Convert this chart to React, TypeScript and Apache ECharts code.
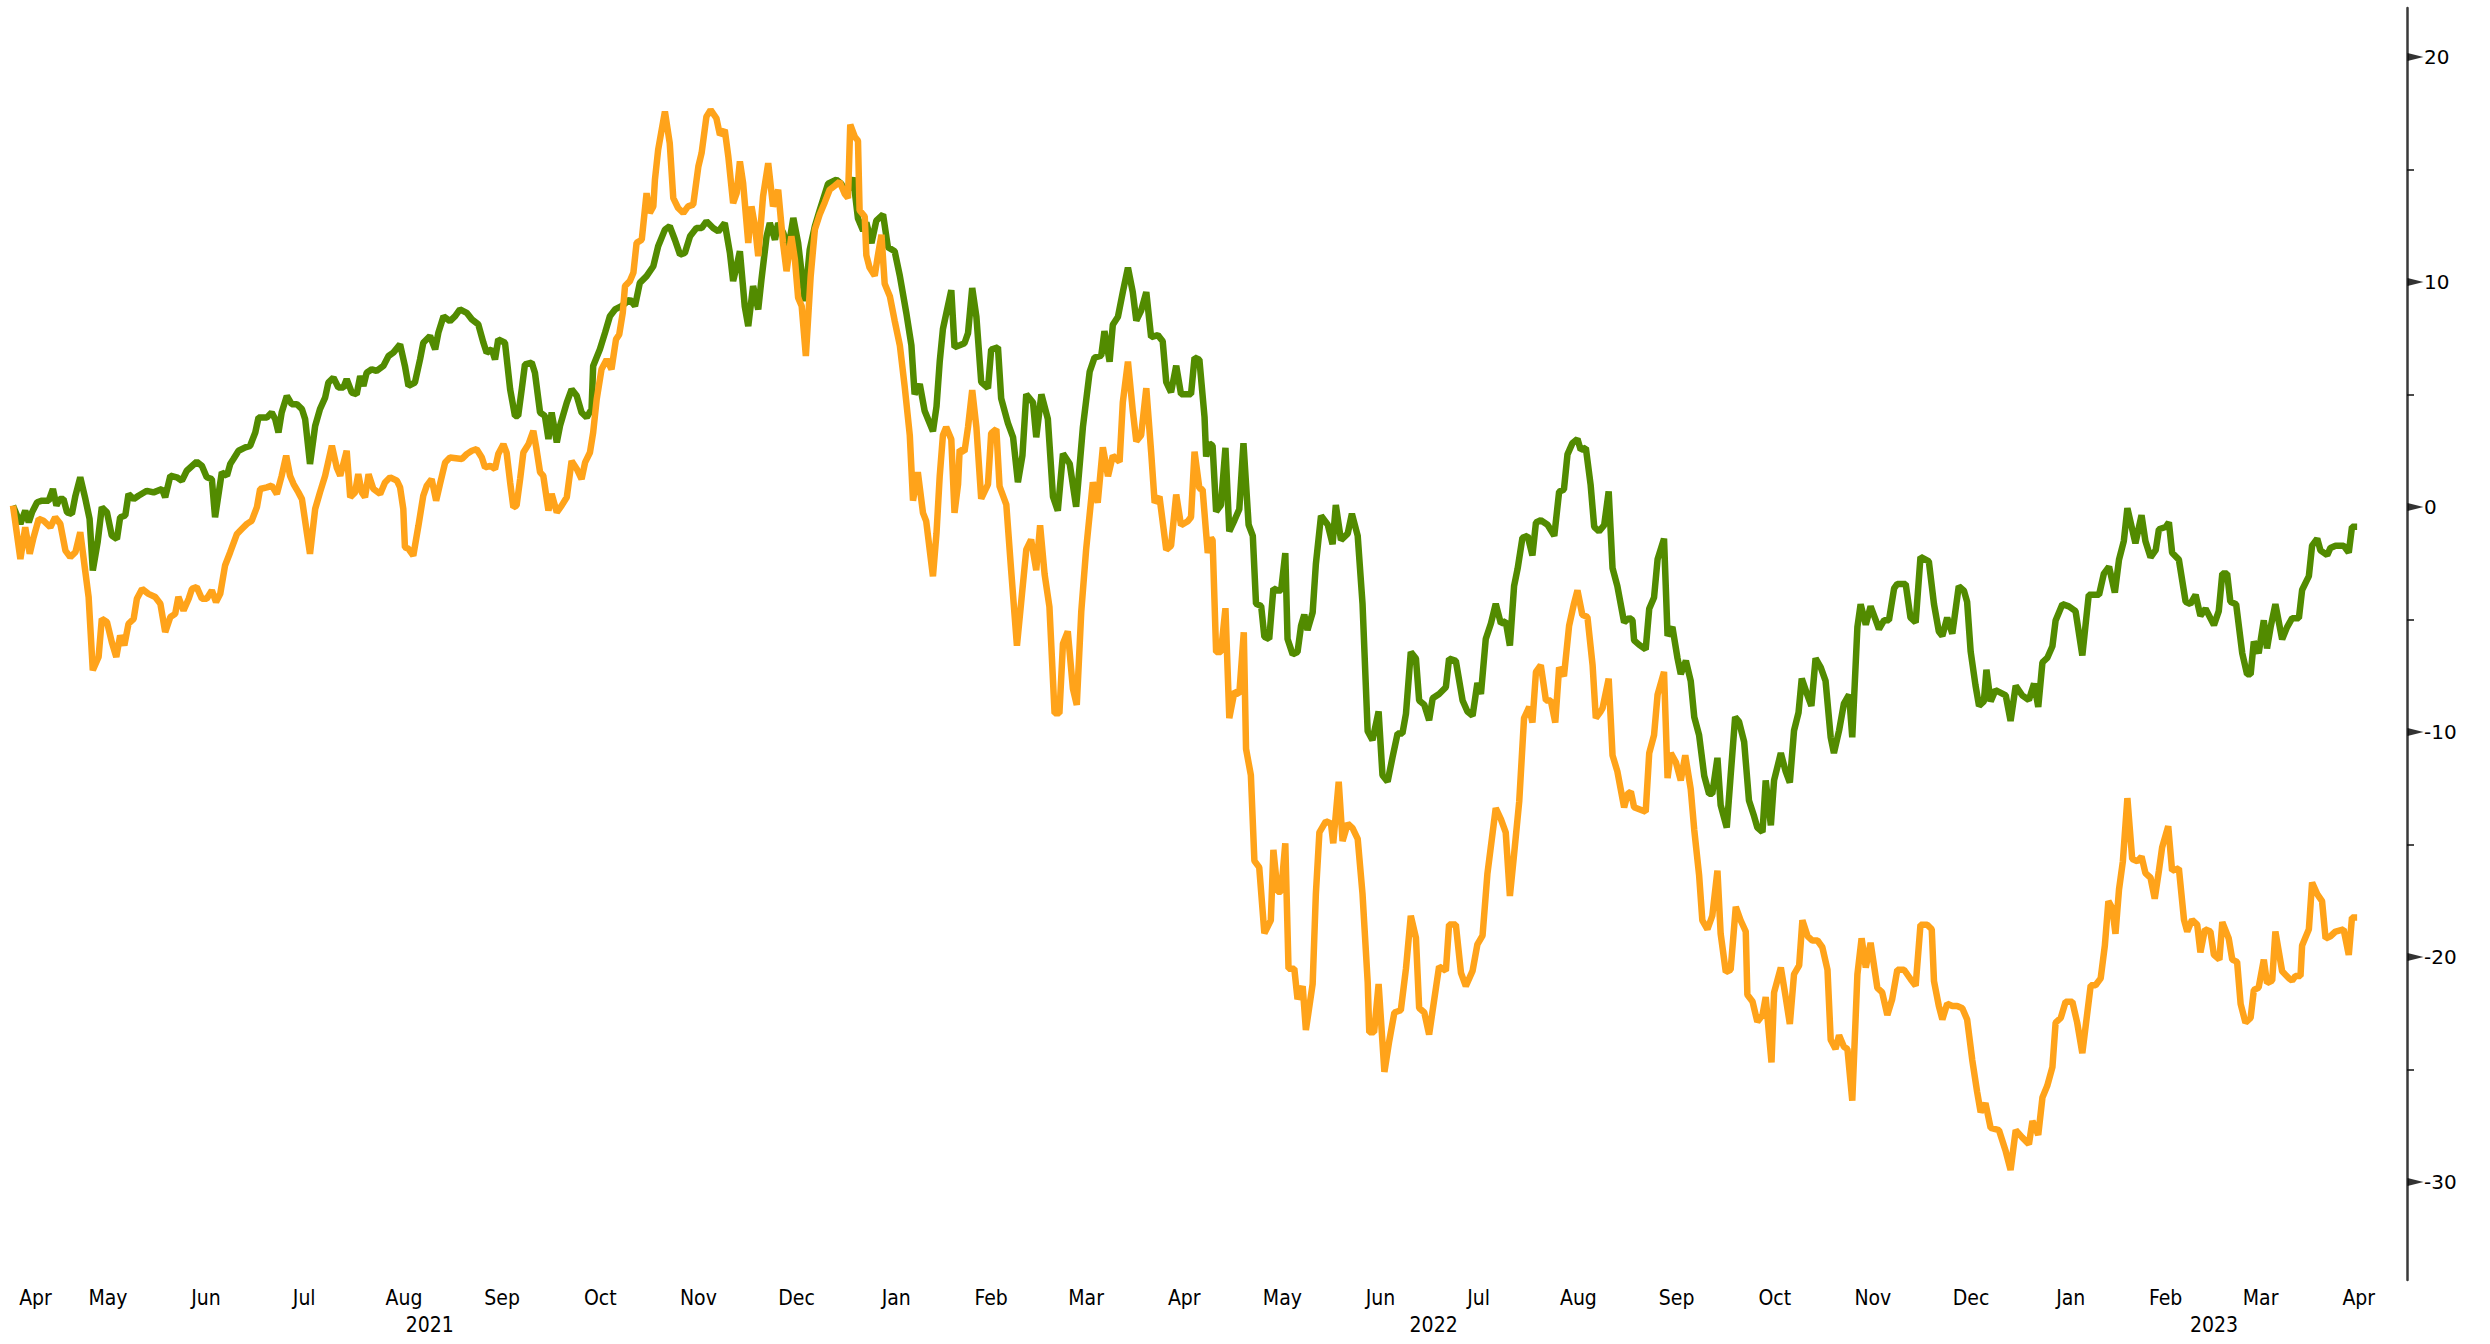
import React, { useEffect, useRef } from "react";
import * as echarts from "echarts";

// x = days since 2021-04-17, y = value
const greenSeries: [number, number][] = [
  [0,0.06],[2.3,-0.75],[3.8,-0.16],[4.9,-0.68],[5.9,-0.24],[7.5,0.21],[9,0.28],[11.1,0.28],[12.4,0.8],[13.5,0.06],[14.5,0.35],[15.7,0.35],[16.8,-0.24],[18.3,-0.31],[19.4,0.5],[20.9,1.32],[22.5,0.35],[23.8,-0.53],[24.8,-2.82],[26.3,-1.57],[27.6,-0.01],[29.2,-0.24],[30.7,-1.27],[32.3,-1.42],[33.3,-0.46],[34.9,-0.38],[35.9,0.58],[37.5,0.35],[39,0.5],[41.6,0.72],[43.7,0.65],[46.3,0.8],[47.3,0.43],[48.9,1.39],[50.9,1.32],[52.5,1.17],[54,1.61],[57.1,2.01],[58.7,1.83],[60.2,1.32],[61.8,1.24],[62.8,-0.46],[64.9,1.54],[66.5,1.39],[67.5,1.91],[68.5,2.13],[70.1,2.5],[72.2,2.65],[73.7,2.72],[75.3,3.31],[76.3,3.98],[78.9,3.98],[80.4,4.2],[81.5,3.9],[82.5,3.31],[83.5,4.2],[85.1,4.94],[86.6,4.57],[88.2,4.57],[89.8,4.35],[90.8,3.9],[92.3,1.91],[93.9,3.6],[95.4,4.35],[97,4.86],[98,5.53],[99.6,5.75],[101.1,5.31],[102.7,5.31],[103.7,5.68],[105.3,5.08],[106.8,5.01],[107.9,5.82],[108.9,5.38],[109.9,5.97],[111.5,6.12],[113,6.05],[115.1,6.27],[116.7,6.71],[118.2,6.86],[120.3,7.23],[121.8,6.27],[122.9,5.38],[124.9,5.53],
  [126.5,6.56],[127.5,7.3],[129.6,7.6],[131.2,7.01],[132.2,7.75],[133.8,8.48],[135.8,8.26],[137.4,8.48],[138.9,8.78],[141,8.63],[142.6,8.34],[144.6,8.12],[146.2,7.3],[147.2,6.86],[148.8,7.01],[149.8,6.56],[150.8,7.45],[152.9,7.3],[154.5,5.23],[156,4.05],[157,4.05],[158.1,5.23],[159.1,6.34],[161.2,6.42],[162.2,5.97],[163.8,4.2],[165.3,4.05],[166.4,3.02],[167.4,4.2],[169,2.87],[170,3.61],[172.1,4.64],[173.6,5.23],[175.2,4.94],[176.7,4.2],[178.3,3.98],[179.8,4.35],[180.3,6.27],[182.4,7.01],[184,7.75],[185.5,8.48],[187.1,8.78],[189.1,8.93],[191.7,9.22],[193.3,8.93],[194.8,9.96],[196.9,10.26],[199,10.7],[200.5,11.59],[202.6,12.33],[204.1,12.48],[205.7,11.88],[207.3,11.22],[208.8,11.29],[210.4,12.03],[212.4,12.4],[214,12.4],[215.5,12.7],[217.6,12.4],[219.2,12.25],[221.2,12.62],[222.8,11.29],[223.8,10.04],[224.9,10.7],[225.9,11.37],[227.4,8.93],[228.5,8.04],[230,9.82],[231.6,8.78],[232.6,10.11],[234.2,12.03],[235.2,12.62],[236.8,11.88],[237.8,12.62],[239.4,12.18],[240.9,11.44],[242.5,12.85],[244,11.74],[246.1,9.15],[247.6,11.44],[249.2,12.48],
  [250.7,13.19],[253.3,14.37],[255.9,14.55],[257.4,14.37],[259,13.91],[261.1,14.64],[262.6,12.82],[264.2,12.28],[265.2,12.64],[266.8,11.73],[268.3,12.73],[270.4,13.0],[271.9,11.55],[274,11.37],[275.6,10.28],[277.6,8.64],[279.2,7.19],[280.2,5.01],[281.8,5.46],[283.3,4.28],[285.9,3.37],[287,4.46],[288,6.46],[289,7.91],[291.6,9.64],[292.6,7.1],[294.2,7.19],[295.7,7.28],[296.8,7.73],[298.1,9.73],[299.4,8.46],[300.9,5.55],[303,5.28],[304,7.0],[306.1,7.1],[307.1,4.83],[309.2,3.73],[310.8,3.1],[312.3,1.1],[313.7,2.28],[314.9,5.01],[317,4.64],[318,3.1],[319.6,5.01],[321.6,3.92],[323.2,0.46],[324.7,-0.17],[326.3,2.37],[328.4,1.92],[330.4,0.01],[332.5,3.55],[334.6,6.01],[336.1,6.64],[338.2,6.73],[339.2,7.82],[340.8,6.46],[341.8,8.1],[343.4,8.46],[344.9,9.55],[346.5,10.64],[348,9.55],[349.1,8.28],[350.6,8.73],[352.2,9.55],[353.7,7.55],[355.8,7.64],[357.3,7.37],[358.4,5.55],[359.9,5.1],[361.5,6.28],[363,5.01],[366.1,5.01],[367.2,6.64],[368.7,6.55],
  [370.3,4.0],[370.8,2.24],[371.8,2.83],[372.8,2.73],[373.9,-0.2],[375.4,0.09],[376.8,2.63],[378,-1.08],[379.6,-0.59],[381.1,-0.1],[382.4,2.83],[384,-0.79],[385.3,-1.28],[386.3,-4.3],[387.9,-4.4],[388.9,-5.77],[390.4,-5.87],[391.7,-3.62],[393,-3.71],[394.1,-3.71],[395.4,-2.05],[396.1,-5.87],[397.7,-6.55],[399.2,-6.45],[400.3,-5.28],[401.3,-4.79],[402.3,-5.47],[403.9,-4.69],[404.9,-2.54],[406.5,-0.39],[408.6,-0.79],[410.1,-1.66],[411.1,0.09],[412.7,-1.47],[414.8,-1.18],[416.1,-0.3],[417.9,-1.28],[419.4,-4.3],[421,-9.97],[422.5,-10.36],[424.4,-9.09],[425.6,-11.92],[427.2,-12.21],[428.7,-11.14],[430.3,-10.07],[431.8,-10.07],[432.9,-9.19],[434.4,-6.45],[436,-6.74],[437,-8.6],[438.6,-8.79],[440.1,-9.48],[441.2,-8.5],[443.2,-8.31],[445.3,-8.01],[446.3,-6.74],[448.4,-6.84],[450.5,-8.6],[452,-9.09],[453.6,-9.28],[455.1,-7.82],[456.2,-8.31],[457.7,-5.87],[459.3,-5.18],[460.8,-4.3],[462.4,-5.18],[463.9,-5.08],[465.2,-6.16],[466.5,-3.52],[467.6,-2.74],[469.1,-1.37],[470.7,-1.28],[472.2,-2.15],[473.3,-0.69],[474.8,-0.59],[476.9,-0.79],[479,-1.28],[480.5,0.68],[482,0.78],[483.1,2.34],[484.6,2.83],[486.2,3.02],[487.2,2.54],[488.8,2.63],[490.3,0.97],[491.4,-0.88],[492.9,-1.08],
  [494.5,-0.81],[495.9,0.69],[497.1,-2.72],[498.6,-3.52],[500.7,-5.13],[502.3,-4.93],[503.3,-5.03],[503.8,-5.93],[505.4,-6.13],[507.4,-6.33],[508.5,-4.52],[510,-4.02],[511.1,-2.32],[513.1,-1.41],[514.2,-5.73],[515.7,-5.33],[517.3,-6.73],[518.3,-7.43],[519.9,-6.83],[521.4,-7.73],[522.5,-9.34],[524,-10.14],[525.6,-11.95],[527.1,-12.75],[528.1,-12.75],[529.7,-11.15],[530.7,-13.25],[532.6,-14.25],[533.8,-11.95],[535.2,-9.34],[536.4,-9.54],[538,-10.44],[539.5,-13.05],[541.1,-13.75],[542.1,-14.25],[543.7,-14.45],[544.7,-12.15],[546.3,-14.15],[547.3,-12.15],[549.4,-10.94],[550.9,-11.75],[552.2,-12.25],[553.5,-9.94],[554.9,-9.14],[555.9,-7.63],[557.6,-8.34],[558.9,-8.84],[560.2,-6.73],[561.8,-7.13],[563.3,-7.73],[564.9,-10.24],[565.9,-10.94],[567.5,-9.94],[569,-8.74],[570.6,-8.34],[571.6,-10.24],[573.2,-5.33],[574.2,-4.32],[575.8,-5.23],[577.3,-4.42],[578.9,-5.03],[579.9,-5.43],[581.5,-5.03],[583,-5.03],[584.6,-3.62],[585.6,-3.42],[588.2,-3.42],[589.7,-4.92],[591.3,-5.13],[592.8,-2.22],[595.4,-2.42],[597,-4.32],[598.5,-5.53],[599.6,-5.73],[601.1,-4.92],[602.7,-5.63],[604.7,-3.52],[606.3,-3.72],[607.3,-4.22],[608.4,-6.43],[609.9,-7.93],[611,-8.84],[612.5,-8.64],[613.3,-7.23],[614.6,-8.64],[616.1,-8.14],
  [619.3,-8.37],[620.8,-9.51],[622.4,-7.95],[624.4,-8.37],[626.5,-8.58],[628.1,-7.85],[629.4,-8.89],[630.7,-6.91],[632.2,-6.71],[633.8,-6.19],[634.8,-5.04],[636.9,-4.32],[638.9,-4.42],[641,-4.63],[643.1,-6.6],[645.1,-3.9],[648.3,-3.9],[649.8,-2.96],[651.4,-2.65],[653.2,-3.8],[654.5,-2.34],[656,-1.51],[657.1,-0.05],[658.1,-0.68],[659.6,-1.61],[661.5,-0.37],[662.7,-1.51],[664.3,-2.24],[665.9,-1.92],[666.9,-0.99],[669,-0.89],[670,-0.68],[671,-2.03],[673.1,-2.34],[675.2,-4.21],[676.7,-4.31],[678.3,-3.9],[679.8,-4.84],[681.4,-4.52],[684,-5.25],[685.5,-4.63],[686.6,-2.96],[688.1,-2.96],[689.1,-4.21],[690.9,-4.32],[692.8,-6.5],[694.3,-7.44],[695.4,-7.44],[696.4,-5.98],[697.9,-6.5],[699.5,-5.04],[700.5,-6.29],[701.6,-5.35],[703.1,-4.32],[705.2,-5.88],[706.7,-5.35],[708.3,-4.94],[710.4,-4.94],[711.4,-3.69],[713.5,-3.07],[714.5,-1.72],[716.1,-1.41],[717.1,-1.93],[719.2,-2.14],[720.2,-1.82],[721.8,-1.72],[724.3,-1.72],[725.9,-2.03],[726.9,-0.88],[728.5,-0.88],
];

const orangeSeries: [number, number][] = [
  [0,0.06],[2.3,-2.31],[3.8,-0.9],[5.2,-2.08],[6.4,-1.35],[8,-0.53],[9.5,-0.61],[11.6,-0.9],[13.1,-0.46],[14.7,-0.75],[16.3,-1.94],[17.8,-2.23],[19.4,-2.01],[20.9,-1.12],[22.5,-2.9],[23.5,-4.0],[24.8,-7.26],[26.6,-6.67],[27.6,-4.97],[29.2,-5.11],[30.7,-6.0],[32.1,-6.67],[33.3,-5.71],[34.6,-6.15],[35.9,-5.19],[37.5,-4.97],[38.5,-4.08],[40.1,-3.64],[42.1,-3.86],[44.2,-4.0],[45.8,-4.3],[47.3,-5.56],[48.9,-4.89],[50.4,-4.75],[51.4,-4.0],[53,-4.6],[54.6,-4.08],[55.6,-3.64],[57.1,-3.56],[58.7,-4.08],[60.2,-4.08],[61.8,-3.71],[63.1,-4.23],[64.4,-3.86],[65.9,-2.6],[67.5,-2.01],[69.6,-1.2],[71.1,-0.98],[72.7,-0.75],[74.2,-0.61],[75.8,-0.01],[76.8,0.8],[78.9,0.87],[80.4,0.95],[82,0.58],[83.5,1.39],[84.9,2.28],[86.1,1.39],[87.2,1.02],[88.7,0.65],[89.8,0.35],[91.3,-1.12],[92.3,-2.08],[93.9,-0.09],[95.4,0.65],[97,1.39],[99.1,2.72],[100.6,1.76],[101.7,1.39],[103.7,2.5],[104.8,0.43],[106.3,0.65],[107.3,1.46],[108.4,0.65],[109.4,0.43],[110.5,1.46],[112,0.8],[114.1,0.58],[115.6,1.09],[117.2,1.32],[119.3,1.17],[120.3,0.87],[121.3,-0.09],[121.8,-1.79],[122.9,-1.86],[124.4,-2.16],
  [126,-0.83],[127.5,0.5],[128.6,0.95],[130.1,1.24],[131.5,0.28],[132.7,1.02],[134.3,1.98],[135.8,2.2],[139.5,2.13],[141,2.35],[142.6,2.5],[144.1,2.57],[145.7,2.2],[146.7,1.76],[148.3,1.83],[149.8,1.69],[150.8,2.35],[152.4,2.79],[153.4,2.42],[154.5,1.09],[155.5,-0.01],[156.5,0.06],[157.6,1.24],[158.6,2.42],[160.2,2.79],[161.7,3.39],[162.7,2.57],[163.8,1.54],[164.8,1.39],[166.4,-0.16],[167.4,0.58],[169,-0.24],[170.5,0.06],[172.1,0.43],[173.6,2.05],[175.2,1.69],[176.7,1.24],[177.8,1.98],[179.3,2.42],[180.3,3.31],[181.4,4.79],[182.9,6.12],[184.5,6.56],[186,6.12],[187.4,7.45],[188.4,7.67],[189.5,8.63],[190.2,9.82],[191.7,10.04],[192.8,10.41],[193.8,11.74],[195.4,11.88],[196.9,13.95],[197.9,13.07],[199,13.36],[199.5,14.55],[200.5,15.88],[202.6,17.58],[204.1,16.17],[205.2,13.73],[206.7,13.29],[208.3,13.07],[209.8,13.36],[211.4,13.44],[213,15.14],[214,15.73],[215.5,17.35],[216.8,17.65],[218.6,17.28],[219.7,16.54],[221.2,16.76],[222.3,15.58],[223.8,13.51],[224.9,13.95],[225.9,15.36],[226.9,14.4],[228.5,11.74],[229.5,13.36],[230.6,12.48],[231.6,11.15],[233.1,13.81],[234.7,15.28],[236.2,13.36],[237.8,14.1],[239.3,11.74],[240.4,10.48],[241.9,12.03],[243,11.0],[244,9.3],[245.1,8.93],[246.4,6.71],[247.9,10.26],[249.2,12.33],
  [250.7,13.0],[252.3,13.55],[253.8,14.1],[255.4,14.28],[256.9,14.46],[258.5,13.91],[259.5,13.73],[260.2,17.0],[261.6,16.46],[262.6,16.28],[263.1,13.19],[264.7,12.91],[265.2,11.19],[266.2,10.64],[267.8,10.28],[268.8,11.19],[269.9,12.1],[270.9,9.92],[272.5,9.37],[274,8.28],[275.6,7.19],[277.1,5.37],[278.7,3.19],[279.7,0.28],[281.2,1.55],[282.8,-0.26],[283.8,-0.63],[285.9,-3.08],[287,-1.17],[288,1.37],[289,3.19],[290,3.55],[291.6,3.01],[292.6,-0.26],[293.7,1.01],[294.2,2.55],[295.7,2.46],[296.8,3.55],[298.1,5.19],[299.4,3.55],[300.9,0.37],[303,1.01],[304,3.28],[305.6,3.46],[306.6,0.92],[308.7,0.1],[310.2,-2.81],[312,-6.17],[313.3,-4.26],[314.9,-1.9],[316.4,-1.45],[318,-2.81],[319.2,-0.81],[320.6,-2.99],[322.1,-4.44],[323.7,-9.17],[325.2,-9.17],[326.3,-6.08],[327.8,-5.53],[329.4,-8.08],[330.6,-8.8],[332,-4.63],[333.5,-1.9],[335.6,1.1],[337.1,0.19],[338.7,2.65],[340.3,1.37],[341.8,2.28],[343.9,2.01],[344.9,4.65],[346.5,6.46],[348,4.28],[349.1,2.92],[350.6,3.19],[352.2,5.28],[353.7,2.46],[354.8,0.19],[356.3,0.46],[358.4,-1.9],[359.9,-1.72],[361.5,0.55],[363,-0.81],[365.1,-0.63],[366.1,-0.45],[367.2,2.46],[368.7,0.83],
  [369.7,0.78],[370.8,-1.17],[371.3,-2.05],[372.3,-1.37],[372.8,-1.47],[373.9,-6.45],[375.4,-6.45],[376.8,-4.5],[378,-9.38],[379.6,-8.21],[381.1,-8.31],[382.5,-5.57],[383.2,-10.75],[384.7,-11.92],[385.8,-15.73],[387.3,-16.02],[388.9,-18.95],[390.9,-18.37],[391.7,-15.24],[393,-17.1],[394.1,-17.1],[395.4,-14.95],[396.4,-20.52],[398.2,-20.52],[399.2,-21.88],[400.8,-21.3],[401.8,-23.25],[403.9,-21.2],[404.9,-17.2],[406,-14.46],[408,-13.97],[409.6,-14.07],[410.3,-14.95],[412,-12.21],[413.2,-14.85],[414.8,-14.07],[416.3,-14.27],[417.9,-14.75],[419.4,-17.2],[421,-21.1],[421.5,-23.35],[423,-23.35],[424.4,-21.2],[426.2,-25.11],[427.7,-23.74],[429.3,-22.47],[431.3,-22.37],[432.9,-20.52],[434.4,-18.17],[436,-19.15],[437,-22.27],[438.6,-22.47],[440.1,-23.45],[441.7,-21.88],[443.2,-20.42],[445.3,-20.62],[446.3,-18.56],[448.4,-18.56],[450,-20.71],[451.5,-21.3],[453.6,-20.62],[455.1,-19.44],[456.7,-19.05],[458.2,-16.32],[460.8,-13.39],[462.4,-13.87],[463.9,-14.46],[465.2,-17.29],[466.5,-15.44],[468.1,-13.09],[469.6,-9.38],[471.2,-8.89],[472.2,-9.58],[473.3,-7.33],[474.8,-7.03],[476.4,-8.6],[477.9,-8.6],[479.3,-9.58],[480.5,-7.13],[482,-7.52],[483.6,-5.28],[485.1,-4.3],[486.2,-3.71],[487.7,-4.79],[489.3,-4.89],[490.9,-7.03],[491.9,-9.38],[493.4,-9.09],
  [494,-8.94],[495.9,-7.63],[497.1,-11.04],[498.6,-11.75],[500.7,-13.35],[501.8,-12.75],[502.8,-12.65],[503.8,-13.35],[507.4,-13.55],[508.5,-10.94],[510,-10.14],[511.1,-8.34],[513.1,-7.33],[514.2,-12.05],[515.2,-10.94],[516.8,-11.35],[518.3,-12.15],[519.7,-11.04],[521.4,-12.55],[522.5,-14.36],[524,-16.36],[525,-18.37],[526.6,-18.77],[528.1,-18.17],[529.7,-16.16],[530.7,-18.97],[532.3,-20.67],[533.8,-20.57],[535.4,-17.77],[536.9,-18.37],[538.5,-18.87],[539,-21.68],[540.6,-21.98],[542.1,-22.88],[543.7,-22.58],[544.7,-21.78],[546.5,-24.69],[547.3,-21.58],[549.4,-20.47],[550.9,-21.78],[552.2,-22.98],[553.5,-20.77],[555.1,-20.37],[556.1,-18.37],[557.7,-19.07],[559.2,-19.27],[560.8,-19.27],[562.3,-19.57],[563.9,-20.57],[564.9,-23.68],[566.4,-24.09],[567.5,-23.48],[569,-23.99],[570.1,-24.09],[571.6,-26.39],[573.2,-20.77],[574.5,-19.17],[575.8,-20.47],[577.3,-19.37],[579.4,-21.38],[580.9,-21.58],[582.5,-22.58],[584,-21.88],[585.6,-20.57],[587.7,-20.57],[589.7,-20.98],[591.3,-21.28],[592.8,-18.57],[594.9,-18.57],[596.3,-18.77],[597,-21.08],[598.5,-22.18],[599.6,-22.78],[601.1,-22.08],[602.7,-22.18],[604.2,-22.18],[605.8,-22.28],[607.3,-22.78],[608.9,-24.59],[610.4,-25.99],[611.5,-26.9],[613,-26.5],[614.6,-27.6],
  [617.2,-27.7],[619.3,-28.64],[620.8,-29.47],[622.4,-27.7],[624.4,-28.02],[626.5,-28.33],[627.6,-27.29],[629.4,-27.91],[630.7,-26.25],[632.2,-25.73],[633.8,-24.9],[634.8,-22.92],[636.4,-22.71],[637.9,-21.99],[640,-21.99],[641.5,-22.92],[643.1,-24.28],[645.7,-21.26],[647.2,-21.26],[648.8,-20.95],[650.1,-19.49],[651.2,-17.52],[652.4,-17.83],[653.4,-18.97],[654.5,-17.0],[655.7,-15.75],[657.1,-12.94],[658.6,-15.65],[660.2,-15.75],[661.5,-15.54],[662.7,-16.27],[664.3,-16.48],[665.6,-17.41],[666.9,-16.17],[667.9,-15.13],[669.8,-14.19],[671,-16.17],[673.1,-16.06],[674.7,-18.35],[675.7,-18.87],[677.2,-18.35],[678.8,-18.56],[679.8,-19.8],[681.2,-18.77],[682.9,-18.87],[684,-19.91],[685.7,-20.12],[686.6,-18.45],[688.6,-19.18],[689.7,-20.12],[691.2,-20.22],[692.3,-22.09],[693.8,-22.92],[695.4,-22.71],[696.4,-21.47],[697.9,-21.36],[699.5,-20.12],[700.5,-21.16],[702.1,-21.05],[703.1,-18.87],[705.2,-20.64],[707.3,-20.95],[708.3,-21.05],[709.3,-20.85],[710.9,-20.85],[711.4,-19.49],[713.5,-18.77],[714.5,-16.69],[716.1,-17.21],[717.6,-17.52],[718.7,-19.18],[720.2,-19.08],[721.8,-18.87],[724.3,-18.77],[725.9,-19.91],[726.9,-18.25],[728.5,-18.25],
];

const MONTH_NAMES = ["Jan","Feb","Mar","Apr","May","Jun","Jul","Aug","Sep","Oct","Nov","Dec"];
const years = [2021, 2022, 2023];
const majorTicks = [-30, -20, -10, 0, 10, 20];
const minorTicks = [-25, -15, -5, 5, 15];
const Y_MIN = -34.36;
const Y_MAX = 22.18;

const START = Date.UTC(2021, 3, 17);
const dayOf = (y: number, m: number) => (Date.UTC(y, m, 1) - START) / 86400000;
const X_MAX = dayOf(2023, 4);

const months: [number, number][] = [];
for (let y = 2021, m = 3; y < 2023 || (y === 2023 && m <= 3); ) {
  months.push([y, m]);
  m++;
  if (m > 11) { m = 0; y++; }
}
const monthCenters = months.map(([y, m]) => (Math.max(dayOf(y, m), 0) + Math.min(dayOf(y, m + 1), X_MAX)) / 2);
const monthLabels = months.map(([, m]) => MONTH_NAMES[m]);
const yearCenters = years.map((y) => (Math.max(dayOf(y, 0), 0) + Math.min(dayOf(y + 1, 0), X_MAX)) / 2);

const labelFor = (centers: number[], labels: string[]) => (v: number) => {
  const i = centers.findIndex((c) => Math.abs(c - v) < 0.01);
  return i >= 0 ? labels[i] : "";
};

const AXIS_FONT = "'DejaVu Sans Condensed', 'Liberation Sans Narrow', 'DejaVu Sans', sans-serif";

export default function App() {
  const ref = useRef<HTMLDivElement>(null);
  useEffect(() => {
    if (!ref.current) return;
    const chart = echarts.init(ref.current, undefined, { renderer: "svg" });
    chart.setOption({
      animation: false,
      backgroundColor: "#ffffff",
      grid: { left: 13, right: 83, top: 8, bottom: 64, outerBoundsMode: "none" },
      xAxis: [
        {
          type: "value", min: 0, max: X_MAX,
          axisLine: { show: false }, axisTick: { show: false }, splitLine: { show: false },
          axisLabel: {
            customValues: monthCenters, formatter: labelFor(monthCenters, monthLabels),
            margin: 7, fontSize: 21, color: "#000", fontFamily: AXIS_FONT,
          },
        },
        {
          type: "value", min: 0, max: X_MAX, position: "bottom",
          axisLine: { show: false }, axisTick: { show: false }, splitLine: { show: false },
          axisLabel: {
            customValues: yearCenters, formatter: labelFor(yearCenters, years.map(String)),
            margin: 34, fontSize: 21, color: "#000", fontFamily: AXIS_FONT,
          },
        },
      ],
      yAxis: {
        type: "value", position: "right", min: Y_MIN, max: Y_MAX,
        splitLine: { show: false },
        axisLine: { show: true, onZero: false, lineStyle: { color: "#3a3a3a", width: 2.5 } },
        axisTick: { show: true, customValues: minorTicks, length: 7, lineStyle: { color: "#111", width: 1.5 } },
        axisLabel: {
          customValues: majorTicks, margin: 17, fontSize: 20, color: "#000",
          fontFamily: "'DejaVu Sans', sans-serif", align: "left",
        },
      },
      series: [
        {
          type: "line", data: greenSeries, showSymbol: false, symbol: "none",
          lineStyle: { color: "#528B00", width: 6.5 }, z: 2,
        },
        {
          type: "line", data: orangeSeries, showSymbol: false, symbol: "none",
          lineStyle: { color: "#FFA31A", width: 6.5 }, z: 3,
        },
        {
          type: "scatter", data: majorTicks.map((v) => [X_MAX, v]),
          symbol: "path://M0,0L10,5L0,10Z", symbolSize: [16, 8], symbolOffset: [8.5, 0],
          itemStyle: { color: "#000" }, silent: true, clip: false, z: 5,
        },
      ],
    });
    return () => chart.dispose();
  }, []);
  return (
    <div
      ref={ref}
      style={{ position: "fixed", left: 0, top: 0, width: 2490, height: 1344, background: "#fff" }}
    />
  );
}
